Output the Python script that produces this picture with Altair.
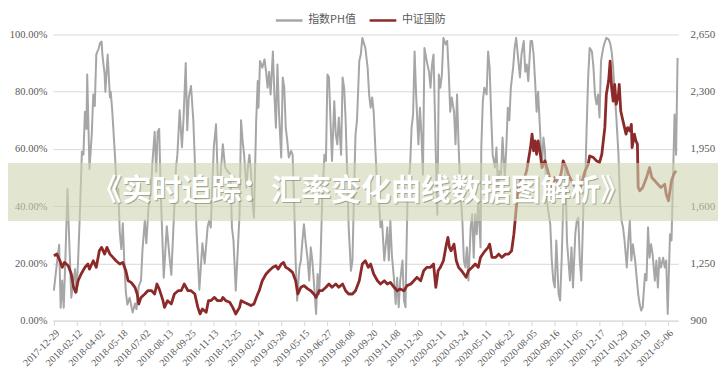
import altair as alt
import pandas as pd

TICK_LABELS = ["2017-12-29", "2018-02-12", "2018-04-02", "2018-05-18", "2018-07-02",
               "2018-08-13", "2018-09-25", "2018-11-13", "2018-12-25", "2019-02-14",
               "2019-03-28", "2019-05-15", "2019-06-27", "2019-08-08", "2019-09-20",
               "2019-11-08", "2019-12-20", "2020-02-11", "2020-03-24", "2020-05-11",
               "2020-06-22", "2020-08-05", "2020-09-16", "2020-11-05", "2020-12-17",
               "2021-01-29", "2021-03-19", "2021-05-06"]
TICK_STEP = 30  # trading days between tick labels

SERIES = ["指数PH值", "中证国防"]
TITLE = "《实时追踪：汇率变化曲线数据图解析》"

# trading-day index and 指数PH值 (%)
PH_DAY = [0, 4, 7, 9, 11, 13, 15, 18, 20, 23, 28, 30, 32, 34, 37, 39, 41, 43, 44, 47,
          50, 52, 54, 56, 59, 61, 63, 64, 67, 68, 71, 74, 75, 77, 81, 83, 85, 87, 89, 91,
          93, 95, 97, 100, 104, 107, 109, 112, 115, 117, 120, 122, 125, 128, 130, 133, 135, 137, 139, 141,
          143, 145, 149, 153, 155, 157, 159, 161, 163, 166, 169, 171, 174, 176, 178, 181, 184, 186, 188, 192,
          196, 199, 203, 205, 207, 211, 214, 216, 218, 223, 226, 230, 233, 235, 237, 240, 242, 245, 247, 249,
          251, 254, 256, 258, 260, 262, 264, 267, 269, 270, 272, 275, 278, 280, 282, 284, 286, 289, 291, 293,
          295, 297, 300, 302, 304, 306, 308, 310, 313, 315, 317, 319, 321, 324, 326, 328, 330, 332, 335, 337,
          339, 341, 343, 346, 348, 350, 352, 354, 357, 359, 361, 363, 365, 367, 370, 372, 374, 376, 379, 381,
          383, 385, 387, 389, 392, 394, 396, 398, 400, 403, 405, 407, 411, 414, 416, 418, 420, 422, 425, 427,
          429, 431, 433, 436, 438, 440, 442, 444, 446, 449, 451, 453, 455, 457, 460, 462, 464, 465, 467, 470,
          472, 474, 476, 478, 481, 483, 485, 487, 489, 492, 495, 497, 499, 501, 504, 506, 508, 510, 512, 514,
          517, 519, 521, 523, 525, 528, 530, 532, 534, 536, 539, 541, 543, 545, 547, 550, 552, 554, 556, 558,
          560, 563, 564, 566, 568, 571, 573, 575, 577, 579, 582, 584, 586, 588, 590, 592, 595, 597, 599, 601,
          603, 606, 608, 610, 613, 615, 617, 620, 622, 624, 626, 629, 631, 633, 635, 637, 639, 642, 644, 646,
          648, 650, 653, 655, 657, 659, 661, 663, 666, 668, 670, 672, 675, 677, 679, 681, 683, 685, 688, 690,
          692, 694, 696, 699, 701, 703, 705, 707, 710, 712, 714, 716, 718, 720, 722, 724, 726, 729, 732, 734,
          736, 738, 740, 742, 745, 747, 749, 751, 753, 756, 758, 760, 762, 764, 767, 769, 771, 773, 775, 777,
          780, 782, 784, 786, 788, 790, 793, 795, 797, 799, 801, 804, 806, 808, 810, 813, 815, 817, 819, 821,
          823]
PH_PCT = [10.5, 20, 26.5, 4.5, 14, 4.5, 20, 46, 30, 8, 18, 10, 21, 35, 59, 58, 73, 67, 86, 53,
          65, 79, 75, 93, 95, 97, 97.5, 93, 86, 80, 93, 78, 80, 73.5, 56, 44, 46, 30.7, 25, 34,
          20, 10, 5.6, 8, 2.8, 6, 4, 12, 14, 25, 35, 27, 40, 45, 55, 66, 52, 66, 67, 45,
          30, 15, 33, 21, 16, 28, 40, 53, 58, 73.5, 60.6, 70, 90, 66.5, 78, 82, 70, 56, 33, 10.8,
          27, 20, 33, 35, 32.5, 60.5, 68.6, 52, 44, 61.6, 53.5, 52, 51, 32.5, 28, 10.5, 21, 37, 70, 63,
          58, 46.5, 53.5, 58, 52, 42, 36, 70, 83.7, 74.4, 90.7, 88.4, 91.3, 87, 81.4, 87, 79, 94, 79, 67.4,
          89.5, 73, 57, 85, 81.4, 67.4, 62.8, 57, 59.3, 58, 42, 21, 7, 18.6, 21, 28, 33.7, 28, 21, 14,
          25.6, 21, 14, 2.3, 16.3, 9.3, 22, 42, 58, 55.8, 86, 85, 70, 55.8, 76.7, 65, 61.6, 71, 58, 85,
          81.4, 70, 52, 32.6, 17.4, 21, 44, 65, 70, 90.7, 93, 98.8, 95.3, 88.4, 79, 74.4, 78, 73, 55.8, 44,
          42, 32.6, 35, 21, 26.7, 32.6, 21, 35, 23, 14, 5.8, 15, 4.7, 14, 21, 7, 4.7, 21, 46.5, 53.5,
          67.4, 72, 94, 79, 61.6, 74.4, 65, 51, 95.3, 90.7, 87, 81.4, 89.5, 93, 58, 37, 86, 81.4, 86, 98.8,
          96.5, 97.7, 87, 73, 78, 73, 61.6, 79, 61.6, 47.7, 35, 21, 18.6, 25.6, 14, 32.6, 37.2, 22, 37.2, 30.2,
          42, 25.6, 60.5, 76.7, 81.4, 79, 94, 88.4, 72, 58, 53.5, 60.5, 46.5, 52.3, 51, 64, 50, 60.5, 74.4, 70,
          81.4, 88.4, 95.3, 98.8, 90.7, 85, 93, 97.7, 87, 89.5, 83.7, 97.7, 97.7, 93, 83.7, 73, 80, 64, 53.5, 64,
          59.3, 43, 37.2, 33.7, 21, 14, 11.6, 28, 9.3, 7, 21, 39.5, 53.5, 28, 21, 14, 25.6, 11.6, 30.2, 35,
          36, 21, 14, 42, 47.7, 67.4, 85, 95.3, 94, 88.4, 79, 75.6, 79, 71, 90.7, 94, 96.5, 98.8, 98.3, 97,
          94, 88.4, 79, 72, 58, 42, 35, 32.6, 28, 18.6, 28, 35, 21, 26.7, 21, 15, 9.3, 5.8, 3.5, 4.7,
          16.3, 14, 32.6, 22, 26.7, 23.3, 14, 21, 11.6, 22, 18.6, 22, 18.6, 21, 2.3, 30.2, 28, 50, 72, 58,
          91.8]

# trading-day index and 中证国防 index level
IDX_DAY = [0, 4, 8, 11, 14, 19, 23, 26, 29, 32, 36, 41, 45, 47, 52, 56, 60, 63, 67, 70,
           74, 78, 82, 87, 91, 95, 98, 102, 107, 110, 112, 115, 120, 124, 129, 133, 136, 139, 144, 146,
           150, 155, 159, 164, 168, 172, 177, 181, 186, 190, 193, 196, 201, 204, 207, 212, 216, 221, 223, 227,
           232, 236, 240, 245, 247, 251, 256, 260, 264, 269, 271, 275, 280, 284, 289, 293, 296, 300, 303, 306,
           310, 315, 319, 322, 326, 330, 335, 339, 343, 346, 350, 354, 359, 363, 367, 372, 376, 381, 385, 389,
           394, 398, 403, 407, 411, 415, 418, 422, 427, 431, 436, 440, 444, 449, 453, 457, 462, 466, 471, 475,
           479, 484, 488, 492, 497, 501, 504, 507, 510, 514, 518, 520, 522, 524, 528, 531, 534, 538, 541, 544,
           547, 552, 556, 560, 563, 566, 569, 573, 575, 578, 583, 587, 591, 596, 600, 604, 607, 609, 611, 613,
           616, 620, 624, 626, 629, 631, 633, 635, 637, 639, 642, 644, 648, 653, 657, 661, 666, 670, 672, 676,
           679, 683, 688, 692, 696, 701, 705, 707, 712, 716, 720, 723, 725, 727, 729, 732, 734, 736, 738, 740,
           742, 745, 746, 748, 750, 752, 755, 757, 760, 762, 763, 766, 768, 770, 771, 773, 777, 782, 786, 789,
           793, 797, 801, 806, 808, 811, 815, 818, 821]
IDX_VAL = [1297, 1307, 1266, 1226, 1256, 1236, 1185, 1104, 1073, 1144, 1185, 1226, 1246, 1215, 1266, 1226, 1327, 1348, 1307, 1348,
           1307, 1287, 1266, 1246, 1256, 1205, 1144, 1134, 1104, 1063, 1002, 1042, 1063, 1083, 1083, 1063, 1124, 1094, 1022, 981,
           1022, 1002, 1063, 1083, 1083, 1124, 1083, 1083, 1063, 981, 941, 971, 951, 1022, 1022, 1042, 1022, 1022, 1042, 1022,
           1012, 981, 941, 981, 1022, 1012, 1002, 992, 1002, 1063, 1083, 1144, 1185, 1205, 1226, 1236, 1215, 1246, 1256, 1226,
           1215, 1195, 1144, 1063, 1104, 1114, 1094, 1083, 1063, 1042, 1083, 1083, 1104, 1124, 1104, 1124, 1104, 1124, 1083, 1063,
           1063, 1083, 1144, 1246, 1266, 1226, 1246, 1185, 1144, 1124, 1144, 1124, 1134, 1104, 1083, 1094, 1083, 1114, 1124, 1144,
           1165, 1144, 1205, 1226, 1226, 1246, 1104, 1205, 1226, 1266, 1368, 1409, 1348, 1327, 1368, 1266, 1226, 1205, 1185, 1165,
           1205, 1226, 1246, 1226, 1287, 1307, 1327, 1348, 1368, 1287, 1287, 1307, 1287, 1307, 1307, 1327, 1429, 1530, 1633, 1714,
           1760, 1755, 1820, 1877, 1960, 2040, 1938, 1999, 1917, 1999, 1917, 1836, 1877, 1795, 1714, 1775, 1734, 1816, 1877, 1836,
           1795, 1755, 1714, 1673, 1734, 1816, 1856, 1907, 1897, 1877, 1867, 1917, 1999, 2080, 2284, 2365, 2487, 2325, 2243, 2345,
           2223, 2284, 2345, 2182, 2141, 2100, 2040, 2080, 2060, 2100, 1958, 2040, 1999, 1979, 1714, 1694, 1714, 1775, 1836, 1775,
           1755, 1734, 1714, 1734, 1673, 1633, 1755, 1795, 1816]

LEFT_TICKS = [0, 20, 40, 60, 80, 100]
RIGHT_TICKS = [900, 1250, 1600, 1950, 2300, 2650]

ph = pd.DataFrame({"day": PH_DAY, "val": PH_PCT, "series": SERIES[0]})
idx = pd.DataFrame({"day": IDX_DAY, "val": IDX_VAL, "series": SERIES[1]})

W, H = 627, 287
SERIF = "Liberation Serif"
CJK = "Noto Sans CJK SC"
TXT = "#595959"

label_expr = "[" + ",".join("'%s'" % t for t in TICK_LABELS) + "][round(datum.value/%d)]" % TICK_STEP

x_enc = alt.X(
    "day:Q",
    scale=alt.Scale(domain=[-1.3, 823.7], nice=False, zero=False),
    axis=alt.Axis(values=list(range(0, TICK_STEP * len(TICK_LABELS), TICK_STEP)),
                  labelExpr=label_expr, labelAngle=-45, labelFont=SERIF, labelFontSize=10,
                  labelColor=TXT, domainColor="#D9D9D9", tickColor="#D9D9D9", tickSize=5,
                  grid=False, title=None, labelPadding=2, labelOverlap=False),
)

color = alt.Color(
    "series:N",
    scale=alt.Scale(domain=SERIES, range=["#A6A6A6", "#8C2A2A"]),
    legend=alt.Legend(orient="none", legendX=222, legendY=-29, direction="horizontal",
                      title=None, symbolType="stroke", symbolSize=720, symbolStrokeWidth=2.5,
                      labelFont=CJK, labelFontSize=11, labelColor=TXT, columnPadding=8,
                      labelOffset=4),
)

gray = alt.Chart(ph).mark_line(strokeWidth=2, strokeJoin="round").encode(
    x=x_enc,
    y=alt.Y("val:Q", scale=alt.Scale(domain=[0, 100], nice=False),
            axis=alt.Axis(values=LEFT_TICKS, labelExpr="format(datum.value,'.2f')+'%'",
                          orient="left", grid=True, gridColor="#D9D9D9", domain=False,
                          ticks=False, labelFont=SERIF, labelFontSize=10.5, labelColor=TXT,
                          labelPadding=6, title=None)),
    color=color,
)

red = alt.Chart(idx).mark_line(strokeWidth=2.8, strokeJoin="round").encode(
    x=x_enc,
    y=alt.Y("val:Q", scale=alt.Scale(domain=[900, 2650], nice=False, zero=False),
            axis=alt.Axis(values=RIGHT_TICKS, labelExpr="format(datum.value, ',')",
                          orient="right", grid=False, domain=False, ticks=False,
                          labelFont=SERIF, labelFontSize=11, labelColor=TXT,
                          labelPadding=12, title=None)),
    color=color,
)

tdf = pd.DataFrame({"t": [TITLE]})
banner = alt.Chart(tdf).mark_rect(color="#CED4B1", opacity=0.6).encode(
    x=alt.value(-53), x2=alt.value(W + 46), y=alt.value(129), y2=alt.value(187))
shadow = alt.Chart(tdf).mark_text(font=CJK, fontSize=30, fontWeight="bold", color="#6F745A",
                                  opacity=0.55, dx=1, dy=1).encode(
    x=alt.value(309), y=alt.value(157), text="t:N")
title = alt.Chart(tdf).mark_text(font=CJK, fontSize=30, fontWeight="bold", color="white").encode(
    x=alt.value(309), y=alt.value(157), text="t:N")

chart = alt.layer(gray, red, banner, shadow, title).resolve_scale(y="independent").properties(
    width=W, height=H,
    autosize=alt.AutoSizeParams(type="none"),
    padding={"left": 45, "top": 26, "right": 40, "bottom": 55},
).configure_view(stroke=None)

chart.save("out.html", embed_options={"renderer": "svg", "actions": False})
